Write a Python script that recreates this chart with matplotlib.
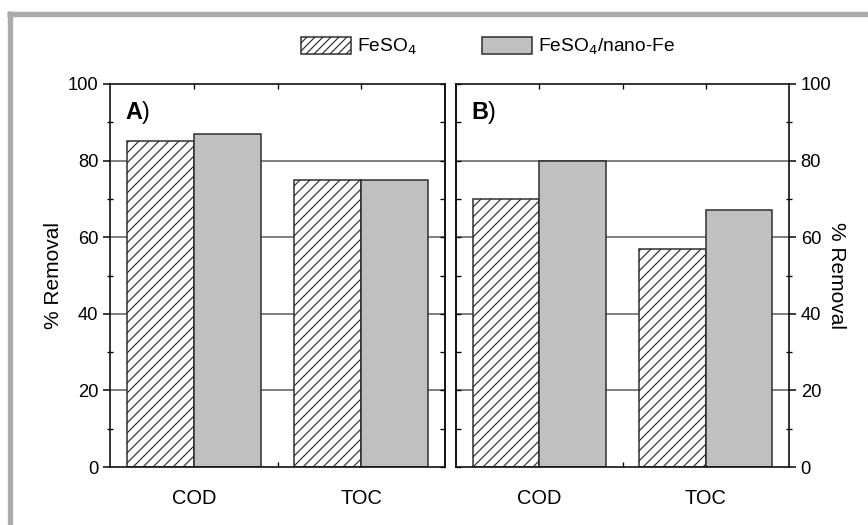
import matplotlib
matplotlib.use("Agg")
import matplotlib.pyplot as plt
import numpy as np
from matplotlib.lines import Line2D
from matplotlib.patches import Patch
from matplotlib.ticker import MultipleLocator, FixedLocator, NullFormatter

plt.rcParams['font.family'] = ['Liberation Sans', 'DejaVu Sans']
plt.rcParams['hatch.linewidth'] = 0.7
plt.rcParams['hatch.color'] = '#222222'

categories = ["COD", "TOC"]
series_names = ["FeSO$_4$", "FeSO$_4$/nano-Fe"]
panel_a_feso4 = [85, 75]
panel_a_nano = [87, 75]
panel_b_feso4 = [70, 57]
panel_b_nano = [80, 67]
panel_labels = ["A", "B"]
y_ticks = [0, 20, 40, 60, 80, 100]
grid_levels = [20, 40, 60, 80]

DPI = 120
fig = plt.figure(figsize=(868 / DPI, 525 / DPI), dpi=DPI)
W, H = 868, 525

def fx(px):
    return px / W

def fy(py):
    return 1 - py / H

# outer gray frame
fig.add_artist(Line2D([fx(9.5), fx(9.5)], [fy(11), fy(530)], color='#ababab', lw=3.2,
                      transform=fig.transFigure, solid_capstyle='butt'))
fig.add_artist(Line2D([fx(7), fx(870)], [fy(13.5), fy(13.5)], color='#ababab', lw=3.2,
                      transform=fig.transFigure, solid_capstyle='butt'))

axA = fig.add_axes([fx(110), fy(467), fx(445) - fx(110), fy(84) - fy(467)])
axB = fig.add_axes([fx(456), fy(467), fx(789) - fx(456), fy(84) - fy(467)])

edge = '#2a2a2a'
gray = '#c0c0c0'
bw = 0.4
x = np.arange(len(categories))

for ax, s1, s2, lab, side in [(axA, panel_a_feso4, panel_a_nano, panel_labels[0], 'left'),
                              (axB, panel_b_feso4, panel_b_nano, panel_labels[1], 'right')]:
    for g in grid_levels:
        ax.axhline(g, color='#6a6a6a', lw=1.0, zorder=0)
    ax.bar(x - bw / 2, s1, width=bw, facecolor='white', edgecolor=edge, hatch='////', lw=0.9, zorder=2)
    ax.bar(x + bw / 2, s2, width=bw, facecolor=gray, edgecolor=edge, lw=0.9, zorder=2)
    ax.set_xlim(-0.5, 1.5)
    ax.set_ylim(0, 100)
    ax.set_xticks(x)
    ax.set_xticklabels(categories, fontsize=12)
    ax.xaxis.set_minor_locator(FixedLocator([0.5]))
    ax.tick_params(axis='x', which='both', length=3, direction='in', top=True, bottom=True,
                   width=0.8, pad=13)
    ax.set_yticks(y_ticks)
    ax.yaxis.set_minor_locator(MultipleLocator(10))
    for sp in ax.spines.values():
        sp.set_linewidth(1.0)
        sp.set_color('#111111')
    inner = 'right' if side == 'left' else 'left'
    if side == 'left':
        ax.tick_params(axis='y', which='major', direction='out', length=4, width=0.9,
                       labelsize=11, left=True, right=False, labelleft=True, labelright=False, pad=3)
        ax.tick_params(axis='y', which='minor', direction='inout', length=4, width=0.8, left=True, right=False)
        ax.set_ylabel("% Removal", fontsize=12.5, labelpad=3)
    else:
        ax.tick_params(axis='y', which='major', direction='out', length=4, width=0.9,
                       labelsize=11, left=False, right=True, labelleft=False, labelright=True, pad=3)
        ax.tick_params(axis='y', which='minor', direction='inout', length=4, width=0.8, left=False, right=True)
        ax.yaxis.set_label_position('right')
        ax.set_ylabel("% Removal", fontsize=12.5, rotation=-90, labelpad=9)
    sec = ax.secondary_yaxis(inner)
    sec.set_yticks(y_ticks)
    sec.yaxis.set_minor_locator(MultipleLocator(10))
    sec.yaxis.set_major_formatter(NullFormatter())
    sec.tick_params(axis='y', which='both', direction='in', length=3, width=0.8)
    sec.spines[inner].set_linewidth(1.0)
    sec.spines[inner].set_color('#111111')
    t = ax.text(0.045, 0.925, lab, transform=ax.transAxes, fontsize=14, fontweight='bold',
                va='center', ha='left')
    ax.annotate(")", xycoords=t, xy=(1, 0.5), va='center', ha='left', fontsize=14)

# legend
handles = [Patch(facecolor='white', edgecolor=edge, hatch='/////', lw=0.9),
           Patch(facecolor=gray, edgecolor=edge, lw=0.9)]
fig.legend(handles, series_names, loc='center', bbox_to_anchor=(fx(488), fy(47)), ncol=2,
           frameon=False, fontsize=11.5, handlelength=2.6, handleheight=0.95, columnspacing=3.4,
           handletextpad=0.3)

fig.savefig("out.png", dpi=DPI)
